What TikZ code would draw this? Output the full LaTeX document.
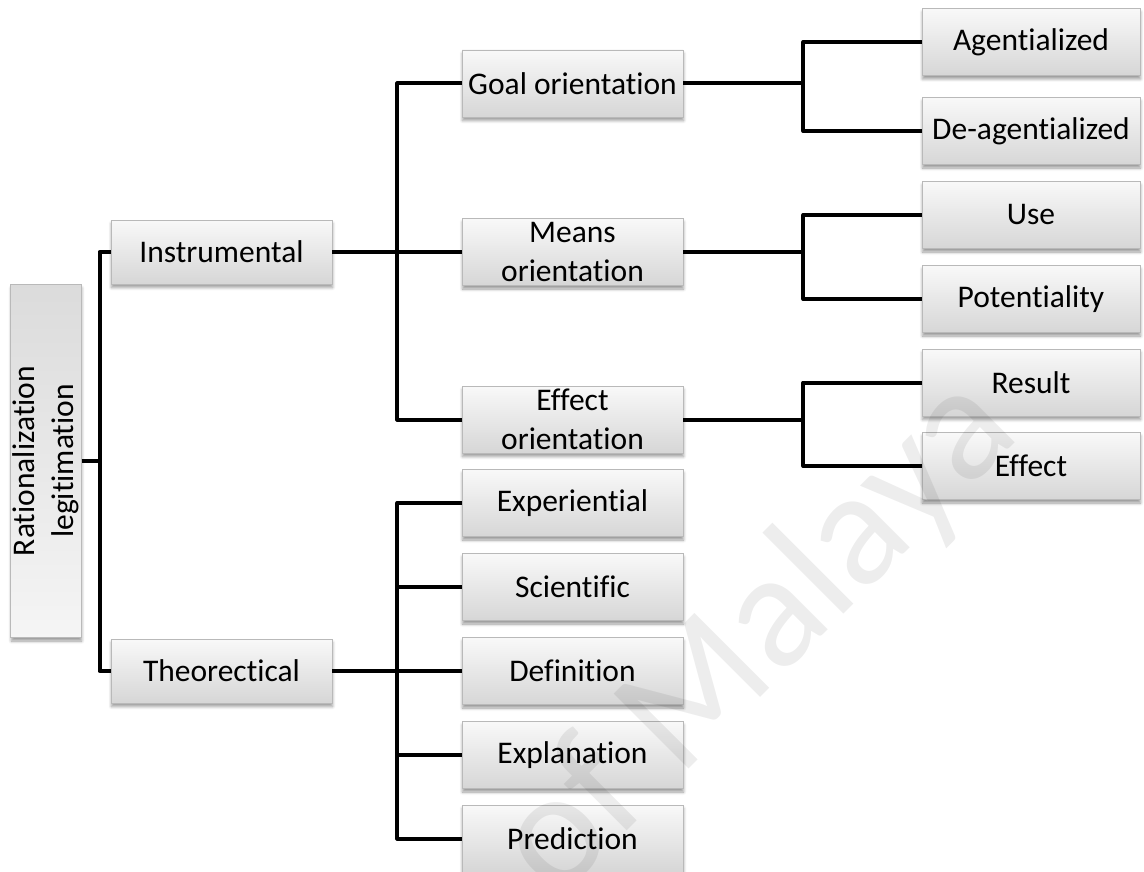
\documentclass[tikz,border=0pt]{standalone}
\usepackage{fontspec}
\setmainfont{Carlito}[Ligatures=CommonOff]
\usetikzlibrary{shadows,shadows.blur}

\newcommand{\boxfont}{\fontsize{31.5}{39}\selectfont}

\tikzset{
  panel/.style={draw=gray!55, line width=0.8pt,
    top color=gray!5, middle color=white, bottom color=gray!32,
    align=center, font=\boxfont, inner sep=2pt,
    blur shadow={shadow xshift=0.5pt, shadow yshift=-3.5pt,
      shadow blur steps=6, shadow blur radius=3pt, shadow opacity=40}},
  lvA/.style={panel, minimum width=221, minimum height=64},
  lvB/.style={panel, minimum width=221, minimum height=67},
  lvC/.style={panel, minimum width=218, minimum height=67},
  link/.style={draw=black, line width=4pt, line join=round}
}

\begin{document}
\begin{tikzpicture}[x=1pt,y=-1pt]
\useasboundingbox (0,0) rectangle (1144,872);

% root (rotated text)
\node[panel, rotate=90, minimum width=353, minimum height=66,
      top color=gray!28, middle color=white, bottom color=gray!8]
  (root) at (46,461) {Rationalization\\legitimation};

% first level
\node[lvA] (instr) at (221.5,252) {Instrumental};
\node[lvA] (theo)  at (221.5,671) {Theorectical};

% second level
\node[lvB] (goal)   at (572.5,83.5)  {Goal orientation};
\node[lvB] (means)  at (572.5,252)   {Means\\orientation};
\node[lvB] (effo)   at (572.5,419.5) {Effect\\orientation};
\node[lvB] (exper)  at (572.5,503)   {Experiential};
\node[lvB] (sci)    at (572.5,587)   {Scientific};
\node[lvB] (defn)   at (572.5,671)   {Definition};
\node[lvB] (expl)   at (572.5,755)   {Explanation};
\node[lvB] (pred)   at (572.5,838.5) {Prediction};

% third level
\node[lvC] (agent)  at (1031,42)    {Agentialized};
\node[lvC] (deag)   at (1031,131)   {De-agentialized};
\node[lvC] (use)    at (1031,215)   {Use};
\node[lvC] (pot)    at (1031,299)   {Potentiality};
\node[lvC] (res)    at (1031,382.5) {Result};
\node[lvC] (eff)    at (1031,466)   {Effect};

% connectors: root
\draw[link] (root.south) -- ++(18,0) coordinate (jr);
\draw[link] (instr.west) -| (jr) |- (theo.west);

% connectors: instrumental branch
\draw[link] (instr.east) -- ++(65,0) coordinate (ji);
\draw[link] (goal.west) -| (ji) |- (effo.west);
\draw[link] (ji) -- (means.west);

% connectors: theoretical branch
\draw[link] (theo.east) -- ++(65,0) coordinate (jt);
\draw[link] (exper.west) -| (jt) |- (pred.west);
\draw[link] (sci.west) -- (sci.west -| jt);
\draw[link] (expl.west) -- (expl.west -| jt);
\draw[link] (defn.west) -- (jt);

% connectors: third level forks
\draw[link] (goal.east) -- ++(120,0) coordinate (jg);
\draw[link] (agent.west) -| (jg) |- (deag.west);
\draw[link] (means.east) -- ++(120,0) coordinate (jm);
\draw[link] (use.west) -| (jm) |- (pot.west);
\draw[link] (effo.east) -- ++(120,0) coordinate (je);
\draw[link] (res.west) -| (je) |- (eff.west);

% faint diagonal watermark
\node[rotate=45, anchor=base west, text=black, opacity=0.07, inner sep=0pt,
      font=\fontsize{165}{165}\selectfont] (wm) at (556,902) {of Malaya};
\end{tikzpicture}
\end{document}
